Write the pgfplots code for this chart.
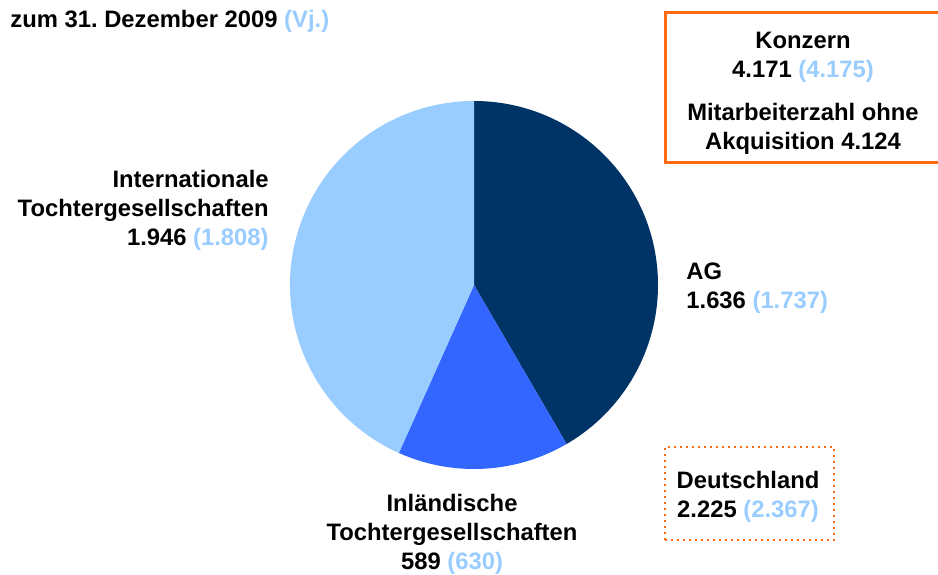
\documentclass[border=0pt]{standalone}
\usepackage{pgfplots}
\pgfplotsset{compat=1.18}
\usepackage{pgfplotstable}
\usepackage{fontspec}
\setmainfont{Liberation Sans}
\frenchspacing

\definecolor{navy}{HTML}{003366}
\definecolor{midblue}{HTML}{3366FF}
\definecolor{lightblue}{HTML}{99CCFF}
\definecolor{vj}{HTML}{99CCFF}
\definecolor{boxorange}{HTML}{FF6A10}

% employees per segment: current year and prior year (Vj.)
% the pie slices in the original follow the prior-year figures
\pgfplotstableread{
part now prev
AG 1636 1737
Inland 589 630
International 1946 1808
}\staff

\begin{document}
\begin{tikzpicture}[x=0.5pt,y=0.5pt,
  lbl/.style={font=\bfseries\fontsize{11.9}{14.5}\selectfont,inner sep=0pt}]
\pgfplotstablegetelem{0}{prev}\of\staff \let\vA\pgfplotsretval
\pgfplotstablegetelem{1}{prev}\of\staff \let\vB\pgfplotsretval
\pgfplotstablegetelem{2}{prev}\of\staff \let\vC\pgfplotsretval
\pgfmathsetmacro\tot{\vA+\vB+\vC}
\pgfmathsetmacro\aA{90-360*(\vA/\tot)}
\pgfmathsetmacro\aB{\aA-360*(\vB/\tot)}

\begin{axis}[at={(237pt,144.5pt)},anchor=center,x=92pt,y=92pt,
  xmin=-1,xmax=1,ymin=-1,ymax=1,hide axis,clip=false]
\fill[navy] (axis cs:0,0) -- (axis cs:0,1)
  arc[start angle=90,end angle=\aA,radius=92pt] -- cycle;
\fill[midblue] (axis cs:0,0) -- (axis cs:{cos(\aA)},{sin(\aA)})
  arc[start angle=\aA,end angle=\aB,radius=92pt] -- cycle;
\fill[lightblue] (axis cs:0,0) -- (axis cs:{cos(\aB)},{sin(\aB)})
  arc[start angle=\aB,end angle=-270,radius=92pt] -- cycle;
\end{axis}

\node[lbl,anchor=west] at (10,553) {zum 31. Dezember 2009 \textcolor{vj}{(Vj.)}};

\node[lbl,anchor=east,align=right] at (269,364)
  {Internationale\\Tochtergesellschaften\\1.946 \textcolor{vj}{(1.808)}};
\node[lbl,anchor=west,align=left] at (686,286)
  {AG\\1.636 \textcolor{vj}{(1.737)}};
\node[lbl,align=center] at (452,40)
  {Inländische\\Tochtergesellschaften\\589 \textcolor{vj}{(630)}};

\draw[boxorange,line width=1.5pt] (665,411) rectangle (950,561);
\node[lbl,align=center] at (803,517) {Konzern\\4.171 \textcolor{vj}{(4.175)}};
\node[lbl,align=center] at (803,445) {Mitarbeiterzahl ohne\\Akquisition 4.124};

\draw[boxorange,line width=1.2pt,dash pattern=on 1.2pt off 1.8pt]
  (665,34) rectangle (834,127);
\node[lbl,align=center] at (748,77.5) {Deutschland\\2.225 \textcolor{vj}{(2.367)}};

\pgfresetboundingbox
\path[use as bounding box] (0,0) rectangle (938,574);
\end{tikzpicture}
\end{document}
